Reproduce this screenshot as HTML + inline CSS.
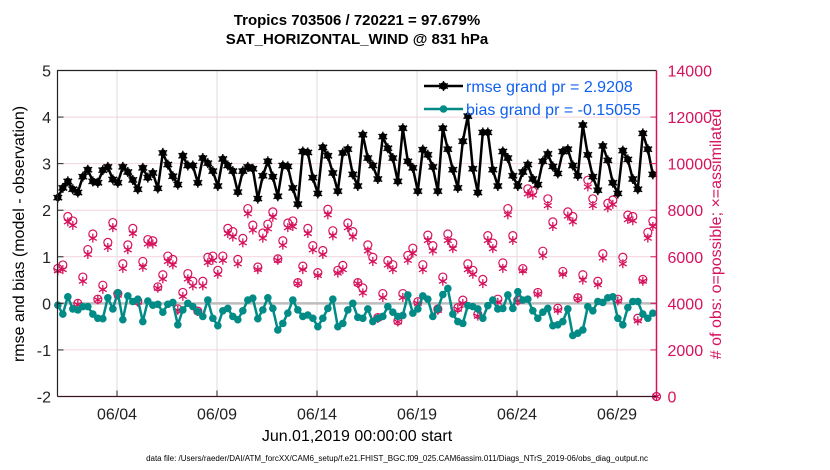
<!DOCTYPE html>
<html><head><meta charset="utf-8"><style>
html,body{margin:0;padding:0;background:#fff;}
svg{display:block;font-family:"Liberation Sans",Arial,sans-serif;}
</style></head><body>
<svg id="chart" width="830" height="470" viewBox="0 0 830 470" xmlns="http://www.w3.org/2000/svg">
<text x="357" y="25" text-anchor="middle" font-size="15" font-weight="bold">Tropics 703506 / 720221 = 97.679%</text>
<text x="357" y="44" text-anchor="middle" font-size="15" font-weight="bold">SAT_HORIZONTAL_WIND @ 831 hPa</text>
<g id="grid"></g>
<g id="obs"></g>
<g id="lines"></g>
<g id="axes"></g>
<text transform="translate(24,234) rotate(-90)" text-anchor="middle" font-size="16">rmse and bias (model - observation)</text>
<text transform="translate(721,234) rotate(-90)" text-anchor="middle" font-size="16" fill="#d6125c"># of obs: o=possible; ×=assimilated</text>
<text x="357" y="441" text-anchor="middle" font-size="16">Jun.01,2019 00:00:00 start</text>
<text x="397" y="461" text-anchor="middle" font-size="8">data file: /Users/raeder/DAI/ATM_forcXX/CAM6_setup/f.e21.FHIST_BGC.f09_025.CAM6assim.011/Diags_NTrS_2019-06/obs_diag_output.nc</text>
<g id="legend"></g>
</svg>
<script>
const rmse=[2.27,2.48,2.62,2.45,2.38,2.72,2.87,2.62,2.59,2.86,2.93,2.66,2.59,2.93,2.82,2.65,2.45,2.91,2.70,2.80,2.47,3.23,2.98,2.73,2.55,3.17,2.96,2.96,2.59,3.12,3.01,2.84,
2.52,3.10,2.96,2.84,2.39,2.84,2.93,2.89,2.25,2.74,3.05,2.72,2.30,2.96,2.94,2.48,2.13,3.26,3.24,2.70,2.36,3.35,3.17,2.80,2.41,3.23,3.31,2.77,2.52,3.62,
3.12,2.96,2.67,3.58,3.33,3.12,2.62,3.76,3.05,2.91,2.41,3.30,3.19,2.93,2.41,3.76,3.31,2.87,2.48,3.48,4.02,2.89,2.38,3.67,3.67,2.87,2.52,3.26,3.12,2.74,
2.52,2.82,2.98,2.67,2.55,3.05,3.21,2.94,2.79,3.26,3.31,2.96,2.74,3.83,3.19,2.72,2.43,3.38,3.07,2.59,2.36,3.28,3.09,2.67,2.45,3.65,3.31,2.77];
const bias=[-0.04,-0.23,0.14,-0.12,-0.14,-0.07,-0.07,-0.23,-0.32,-0.33,0.12,-0.12,0.23,-0.35,0.16,0.04,0.09,-0.39,0.05,-0.04,-0.02,-0.19,-0.02,0.02,-0.46,-0.14,0,-0.07,-0.18,-0.28,0.07,
-0.32,-0.48,-0.16,-0.11,-0.28,-0.35,-0.16,0.07,0.11,-0.33,-0.14,0.12,-0.11,-0.57,-0.43,-0.21,0.07,-0.14,-0.28,-0.25,-0.32,-0.50,-0.32,-0.11,0.09,-0.50,-0.43,-0.14,0,
-0.30,-0.32,-0.12,-0.39,-0.32,-0.28,-0.07,-0.19,-0.28,-0.26,0.18,-0.21,-0.12,0.16,0.09,-0.28,-0.12,0.19,0.32,-0.23,-0.39,-0.43,-0.05,-0.07,-0.12,-0.32,-0.05,0.07,-0.12,-0.11,
0.18,-0.11,0.25,0.07,0.09,-0.16,-0.32,-0.19,-0.11,-0.48,-0.46,-0.39,-0.12,-0.69,-0.64,-0.57,-0.07,-0.16,0.04,0.02,0.12,0.14,-0.32,-0.46,-0.09,0.04,0.04,-0.23,-0.32,-0.21];
const possible=[5500,5650,7730,7540,4000,5130,6310,6980,4180,4780,6620,7470,4420,5700,6510,7220,4100,5800,6740,6690,4710,5230,6030,5890,3760,4470,5280,4950,3670,4950,5980,6030,
5420,6030,7220,7080,5890,6790,8070,7360,5560,7020,7400,7930,5910,6690,7450,7540,4890,5600,7220,6480,5320,6270,8040,7120,5420,5630,7450,7080,4890,4665,
6510,5980,3390,4420,5840,5660,3250,4420,6060,6370,4070,5660,6930,6480,3760,5130,6980,6590,3810,4140,5700,5420,3530,5030,6910,6590,4180,5740,8070,6910,
4140,5490,8920,8820,4470,6240,8490,7500,3790,5370,7930,7730,4240,5230,9290,8490,4950,6130,8300,8440,4180,5980,7790,7730,3360,5030,7050,7540,0];
const assimilated=[5400,5450,7500,7350,3950,4950,6100,6800,4150,4600,6400,7250,4350,5500,6300,7000,4050,5550,6550,6550,4650,5050,5800,5650,3700,4300,5050,4750,3650,4750,5750,5850,
5250,5850,7000,6850,5700,6600,7850,7150,5450,6800,7200,7700,5850,6500,7250,7300,4850,5450,7000,6300,5200,6100,7800,6900,5300,5450,7250,6850,4850,4450,
6250,5800,3350,4250,5650,5450,3200,4250,5850,6150,4000,5450,6700,6250,3700,4950,6700,6350,3750,4000,5450,5250,3450,4850,6700,6350,4050,5500,7800,6700,
4100,5400,8700,8650,4400,6050,8200,7300,3700,5250,7750,7500,4200,5000,9000,8200,4800,5950,8100,8250,4100,5700,7600,7550,3250,4950,6800,7300,0];
const leftTicks=[5,4,3,2,1,0,-1,-2];
const rightTicks=[0,2000,4000,6000,8000,10000,12000,14000];
const dateTicks=["06/04","06/09","06/14","06/19","06/24","06/29"];
const dateTickDays=[3,8,13,18,23,28];
const legendLabels=["rmse grand pr = 2.9208","bias grand pr = -0.15055"];

const NS="http://www.w3.org/2000/svg";
const L=57.5,R=656.5,T=70.5,B=396.5;
const xDay=d=>57+d*20;
const xIdx=i=>xDay((6*i+1)/24);
const yL=v=>B-(v+2)*(B-T)/7;
const yR=v=>B-v*(B-T)/14000;
function mk(tag,attrs,parent){const e=document.createElementNS(NS,tag);for(const k in attrs)e.setAttribute(k,attrs[k]);parent.appendChild(e);return e;}
const grid=document.getElementById('grid'),axes=document.getElementById('axes'),obs=document.getElementById('obs'),lines=document.getElementById('lines'),legend=document.getElementById('legend');
const MAG="#d6125c",TEAL="#008b87";

dateTickDays.forEach((d,k)=>{
  const x=xDay(d);
  const g=mk('line',{x1:x,x2:x,y1:T,y2:B,stroke:'#dcdcdc','stroke-width':1},grid);
  
  
  const t=mk('line',{x1:x,x2:x,y1:B,y2:B-6,stroke:'#222','stroke-width':1},axes);
  
  
  const lb=mk('text',{x:x,y:B+23,'text-anchor':'middle','font-size':16,fill:'#222'},axes);
  lb.textContent=dateTicks[k];
  
  
});
leftTicks.forEach(v=>{
  const y=yL(v);
  if(v>-2&&v<5){const g=mk('line',{x1:L,x2:R,y1:y,y2:y,stroke:(v===0?'#bdbdbd':'#f2d3de'),'stroke-width':(v===0?2.5:1)},grid);
  
  }
  const t=mk('line',{x1:L,x2:L+6,y1:y,y2:y,stroke:'#222'},axes);
  
  
  const lb=mk('text',{x:51,y:y+6,'text-anchor':'end','font-size':16,fill:'#222'},axes);
  lb.textContent=v;
  
  
});
rightTicks.forEach(v=>{
  const y=yR(v);
  const t=mk('line',{x1:R,x2:R-6,y1:y,y2:y,stroke:MAG},axes);
  
  
  const lb=mk('text',{x:R+11,y:y+6,'font-size':16,fill:MAG},axes);
  lb.textContent=v;
  
  
});
const frame=mk('path',{d:`M${R},${T}H${L}V${B}`,fill:'none',stroke:'#222','stroke-width':1.2},axes);


const baxis=mk('line',{x1:L,x2:R,y1:B,y2:B,stroke:'#3a1424','stroke-width':1.2},axes);


const raxis=mk('line',{x1:R,x2:R,y1:T,y2:B,stroke:MAG,'stroke-width':1.5},axes);



function star(x,y,r,color,w,parent){
  let d='';for(let a=0;a<3;a++){const t=Math.PI/2+a*Math.PI/3;const dx=r*Math.cos(t),dy=r*Math.sin(t);d+=`M${x-dx},${y-dy}L${x+dx},${y+dy}`;}
  return mk('path',{d:d,stroke:color,'stroke-width':w,fill:'none'},parent);
}
possible.forEach((v,i)=>{
  const x=i<120?xIdx(i):R;
  const c=mk('circle',{cx:x,cy:yR(v),r:4,fill:'none',stroke:MAG,'stroke-width':1.2},obs);
  
  
  const s=star(x,yR(assimilated[i]),4.5,MAG,1.3,obs);
  
  
});
function series(vals,color,name,spiky){
  const pts=vals.map((v,i)=>`${xIdx(i).toFixed(1)},${yL(v).toFixed(1)}`).join(' ');
  const pl=mk('polyline',{points:pts,fill:'none',stroke:color,'stroke-width':2.5,'stroke-linejoin':'round'},lines);
  
  
  vals.forEach((v,i)=>{
    const c=mk('circle',{cx:xIdx(i),cy:yL(v),r:spiky?3.6:3.8,fill:color},lines);
    
    
    if(spiky){const s=star(xIdx(i),yL(v),5,color,1.4,lines);
      
      }
  });
}
series(rmse,'#000','rmse',true);
series(bias,TEAL,'bias',false);

[[ '#000',true],[TEAL,false]].forEach((s,k)=>{
  const y=86+k*23;
  const ln=mk('line',{x1:424,x2:463,y1:y,y2:y,stroke:s[0],'stroke-width':2.5},legend);
  
  
  const c=mk('circle',{cx:443.5,cy:y,r:3.8,fill:s[0]},legend);
  
  
  if(s[1]){const st=star(443.5,y,5,'#000',1.4,legend);
    
    }
  const t=mk('text',{x:466,y:y+6,'font-size':16,fill:'#1060f0'},legend);
  t.textContent=legendLabels[k];
  
  
});
</script>
</body></html>
